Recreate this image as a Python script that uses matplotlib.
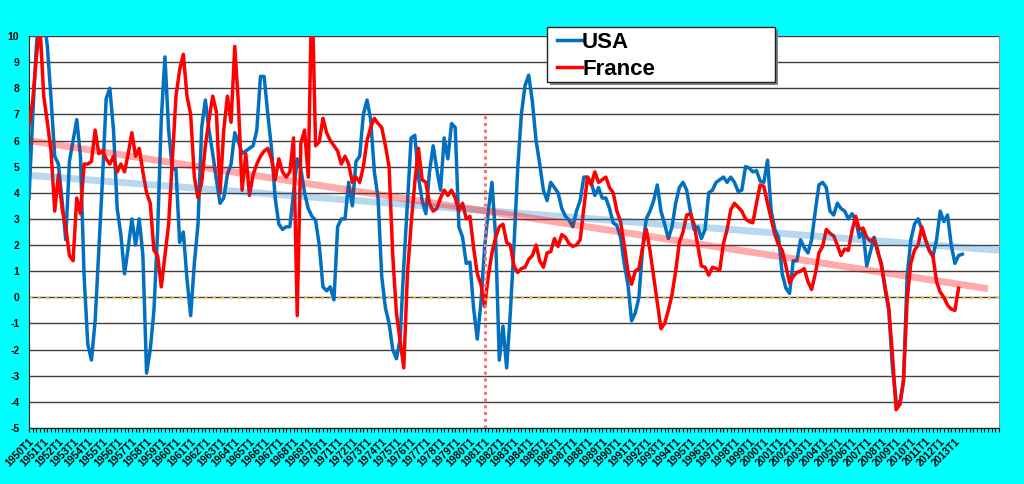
import numpy as np
import matplotlib
matplotlib.use("Agg")
import matplotlib.pyplot as plt
from matplotlib.patches import Rectangle
from matplotlib.lines import Line2D

plt.rcParams['font.family'] = ['Liberation Sans', 'DejaVu Sans']

# croissance du PIB en glissement annuel, trimestriel, 1950T1 ...
usa = [3.8, 6.9, 9.6, 11.5,  10.8, 9.6, 7.6, 5.4,  5.1, 3.7, 2.2, 5.2,  6.0, 6.8, 5.4, 0.8,
       -1.8, -2.4, -0.9, 1.8,  4.5, 7.6, 8.0, 6.4,  3.4, 2.4, 0.9, 1.9,  3.0, 2.0, 3.0, 1.6,
       -2.9, -2.0, -0.5, 2.5,  6.8, 9.2, 6.4, 4.9,  4.9, 2.1, 2.5, 0.7,  -0.7, 1.3, 2.8, 6.5,
       7.55, 6.4, 5.5, 4.5,  3.6, 3.8, 4.7, 5.1,  6.3, 5.95, 5.5, 5.6,  5.7, 5.8, 6.4, 8.45,
       8.45, 7.0, 5.7, 3.8,  2.8, 2.6, 2.7, 2.7,  4.0, 5.3, 4.9, 4.0,  3.4, 3.1, 2.95, 2.0,
       0.4, 0.25, 0.4, -0.1,  2.7, 3.0, 3.0, 4.4,  3.5, 5.2, 5.4, 7.0,  7.55, 6.8, 4.8, 3.8,
       0.8, -0.4, -1.0, -2.0,  -2.35, -1.6, 1.2, 3.6,  6.1, 6.2, 4.6, 3.7,  3.2, 4.8, 5.8, 4.9,
       4.1, 6.1, 5.3, 6.65,  6.5, 2.7, 2.3, 1.3,  1.35, -0.4, -1.6, -0.2,  1.9, 3.3, 4.4, 2.3,
       -2.4, -1.1, -2.7, -0.6,  2.0, 4.9, 7.0, 8.1,  8.5, 7.5, 6.0, 5.1,  4.1, 3.7, 4.4, 4.2,
       4.0, 3.4, 3.1, 2.95,  2.7, 3.3, 3.7, 4.6,  4.6, 4.4, 3.9, 4.2,  3.8, 3.8, 3.4, 2.85,
       2.75, 2.3, 1.3, 0.5,  -0.9, -0.6, 0.0, 1.9,  3.0, 3.3, 3.7, 4.3,  3.3, 2.8, 2.25, 2.7,
       3.6, 4.2, 4.4, 4.1,  3.3, 2.6, 2.7, 2.25,  2.6, 4.0, 4.1, 4.4,  4.5, 4.6, 4.4, 4.6,
       4.4, 4.05, 4.1, 5.0,  4.95, 4.8, 4.85, 4.45,  4.4, 5.25, 3.3, 2.6,  2.3, 0.9, 0.35, 0.15,
       1.4, 1.4, 2.2, 1.9,  1.7, 2.2, 3.3, 4.3,  4.4, 4.2, 3.3, 3.15,  3.6, 3.4, 3.3, 3.0,
       3.2, 2.95, 2.3, 2.55,  1.2, 1.75, 2.3, 1.7,  1.3, 0.3, -0.5, -2.7,  -3.95, -4.1, -3.2, 0.8,
       2.2, 2.8, 3.0, 2.6,  2.2, 1.8, 1.55, 2.2,  3.3, 2.9, 3.15, 2.0,  1.3, 1.6, 1.65]

france = [6.6, 7.5, 9.2, 10.4,  7.7, 6.7, 5.6, 3.3,  4.7, 3.4, 2.7, 1.6,  1.4, 3.8, 3.2, 5.1,
          5.1, 5.2, 6.4, 5.5,  5.6, 5.3, 5.1, 5.4,  4.8, 5.1, 4.8, 5.5,  6.3, 5.4, 5.7, 4.8,
          4.0, 3.6, 1.8, 1.6,  0.4, 1.6, 2.8, 5.2,  7.7, 8.7, 9.3, 7.7,  7.0, 4.6, 3.8, 4.4,
          5.8, 6.8, 7.7, 7.1,  4.0, 6.4, 7.7, 6.7,  9.6, 7.4, 4.1, 5.5,  3.9, 4.7, 5.1, 5.4,
          5.6, 5.7, 5.3, 4.5,  5.3, 4.8, 4.6, 4.8,  6.1, -0.7, 5.9, 6.4,  4.6, 12.0, 5.8, 5.95,
          6.85, 6.3, 6.0, 5.8,  5.6, 5.1, 5.4, 5.1,  4.4, 4.6, 4.4, 5.0,  6.0, 6.5, 6.85, 6.65,
          6.5, 5.8, 5.0, 1.6,  -0.6, -1.65, -2.7, 0.9,  2.8, 4.4, 5.7, 4.5,  4.4, 3.6, 3.3, 3.4,
          3.8, 4.1, 3.9, 4.1,  3.8, 3.3, 3.6, 3.0,  3.1, 1.9, 0.9, 0.5,  -0.35, 0.8, 1.7, 2.3,
          2.7, 2.8, 2.1, 2.0,  1.2, 0.95, 1.1, 1.15,  1.45, 1.6, 2.0, 1.4,  1.15, 1.7, 1.75, 2.25,
          1.95, 2.4, 2.3, 2.05,  1.95, 2.0, 2.2, 3.4,  4.6, 4.3, 4.8, 4.4,  4.5, 4.6, 4.2, 4.0,
          3.3, 2.9, 2.0, 1.0,  0.5, 1.0, 1.1, 1.9,  2.6, 1.8, 0.8, -0.2,  -1.2, -1.0, -0.5, 0.1,
          1.0, 2.1, 2.5, 3.15,  3.2, 2.8, 2.0, 1.2,  1.15, 0.85, 1.15, 1.1,  1.05, 2.06, 2.6, 3.35,
          3.6, 3.45, 3.3, 3.0,  2.9, 2.85, 3.6, 4.3,  4.25, 3.6, 3.0, 2.4,  2.0, 1.8, 1.2, 0.55,
          0.8, 0.95, 1.0, 1.1,  0.6, 0.3, 0.9, 1.7,  1.95, 2.6, 2.45, 2.35,  2.0, 1.6, 1.85, 1.8,
          2.55, 3.1, 2.6, 2.65,  2.3, 2.15, 2.25, 1.8,  1.2, 0.4, -0.4, -2.2,  -4.3, -4.1, -3.2, -0.1,
          1.3, 1.8, 2.0, 2.7,  2.2, 1.8, 1.6, 0.6,  0.2, 0.0, -0.3, -0.45,  -0.5, 0.35]

# tendances linéaires (début, fin) et trimestre de fin
trend_usa = [4.67, 1.8]
trend_usa_end = 264
trend_fr = [6.0, 0.33]
trend_fr_end = 261

# trait vertical pointillé (1981T1)
marker_q = 124
marker_top = 7.1

n_quarters = 265
years = list(range(1950, 2014))
labels = ["%dT1" % y for y in years]

fig = plt.figure(figsize=(10.24, 4.84), dpi=100)
fig.patch.set_facecolor('#00FFFF')
ax = fig.add_axes([29/1024, 1 - 428/484, 970/1024, 392/484])
ax.set_facecolor('white')

ax.set_xlim(0, n_quarters - 1)
ax.set_ylim(-5, 10)

for v in range(-5, 11):
    ax.axhline(v, color='#404040', lw=1.0, zorder=1)
ax.axhline(0, color='#F0C850', lw=2, linestyle=(0, (1, 2)), zorder=2)

x_usa = np.arange(len(usa))
x_fr = np.arange(len(france))
ax.plot(x_usa, usa, color='#0070C0', lw=2.5, zorder=3, solid_joinstyle='round', label='USA')
ax.plot(x_fr, france, color='#FF0000', lw=2.5, zorder=4, solid_joinstyle='round', label='France')

ax.plot([0, trend_usa_end], trend_usa, color='#0070C0', alpha=0.27, lw=5, zorder=5,
        solid_capstyle='butt')
ax.plot([0, trend_fr_end], trend_fr, color='#FF0000', alpha=0.33, lw=5, zorder=5,
        solid_capstyle='butt')

ax.plot([marker_q, marker_q], [-5, marker_top], color='#FF7070', lw=2.2,
        linestyle=(0, (1, 1.2)), zorder=6)

# axes
ax.set_yticks(range(-5, 11))
ax.set_yticklabels([str(v) for v in range(-5, 11)], fontsize=7.5, fontweight='bold')
ax.tick_params(axis='y', length=0, pad=7)

ax.set_xticks(range(0, len(labels) * 4, 4))
ax.set_xticklabels(labels, rotation=45, ha='right', va='top', rotation_mode='anchor',
                   fontsize=7.5, fontweight='bold')
ax.set_xticks(range(n_quarters), minor=True)
ax.tick_params(axis='x', which='both', length=3, width=0.8, direction='out', pad=3)

ax.spines['top'].set_visible(False)
ax.spines['left'].set_color('#202020')
ax.spines['bottom'].set_color('#202020')
ax.spines['right'].set_color('#909090')

# légende
W, H = 1024.0, 484.0
def fx(p):
    return p / W
def fy(p):
    return 1 - p / H

fig.patches.append(Rectangle((fx(549.7), fy(84.7)), fx(775) - fx(546.7), fy(26.7) - fy(81.7),
                             transform=fig.transFigure, facecolor='#808080', edgecolor='none',
                             zorder=9))
fig.patches.append(Rectangle((fx(546.7), fy(81.7)), fx(775) - fx(546.7), fy(26.7) - fy(81.7),
                             transform=fig.transFigure, facecolor='white', edgecolor='#202020',
                             lw=1, zorder=10))
fig.lines.append(Line2D([fx(556.7), fx(581.7)], [fy(39.5), fy(39.5)], transform=fig.transFigure,
                        color='#0070C0', lw=2.5, zorder=11))
fig.lines.append(Line2D([fx(556.7), fx(581.7)], [fy(67.3), fy(67.3)], transform=fig.transFigure,
                        color='#FF0000', lw=2.5, zorder=11))
fig.text(fx(582), fy(47.7), 'USA', fontsize=16, fontweight='bold', va='baseline', zorder=12)
fig.text(fx(582), fy(75), 'France', fontsize=16, fontweight='bold', va='baseline', zorder=12)

fig.savefig('out.png', dpi=100, facecolor=fig.get_facecolor())
